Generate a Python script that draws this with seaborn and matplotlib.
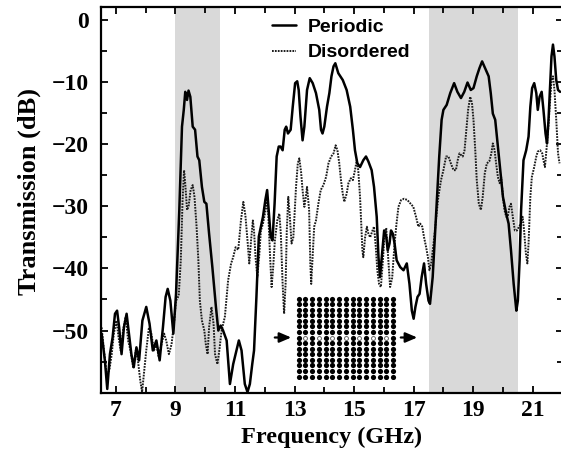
import numpy as np
import matplotlib
matplotlib.use("Agg")
import matplotlib.pyplot as plt
from matplotlib.ticker import FixedLocator
import seaborn as sns

# ---------------- data ----------------
freq_periodic = [6.52, 6.63, 6.71, 6.80, 6.89, 6.97, 7.04, 7.11, 7.19, 7.27, 7.36, 7.44, 7.52, 7.60, 7.69,
                 7.78, 7.89, 8.02, 8.13, 8.24, 8.36, 8.47, 8.58, 8.67, 8.74, 8.83, 8.93, 9.02, 9.13, 9.22,
                 9.28, 9.33, 9.39, 9.44, 9.50, 9.58, 9.66, 9.74, 9.80, 9.89, 9.97, 10.04, 10.13, 10.24,
                 10.36, 10.44, 10.52, 10.60, 10.72, 10.83, 10.94, 11.02, 11.13, 11.22, 11.33, 11.42,
                 11.50, 11.58, 11.64, 11.72, 11.80, 11.87, 11.94, 12.02, 12.08, 12.13, 12.20, 12.26,
                 12.33, 12.40, 12.47, 12.53, 12.60, 12.67, 12.72, 12.78, 12.87, 12.94, 13.02, 13.09,
                 13.14, 13.20, 13.27, 13.33, 13.42, 13.51, 13.61, 13.72, 13.83, 13.89, 13.94, 14.00,
                 14.09, 14.17, 14.24, 14.31, 14.37, 14.47, 14.62, 14.75, 14.87, 14.96, 15.03, 15.11,
                 15.20, 15.31, 15.40, 15.48, 15.59, 15.67, 15.76, 15.82, 15.87, 15.93, 16.01, 16.08,
                 16.13, 16.19, 16.24, 16.30, 16.36, 16.43, 16.55, 16.66, 16.77, 16.86, 16.94, 17.00,
                 17.06, 17.13, 17.20, 17.27, 17.35, 17.42, 17.50, 17.55, 17.64, 17.75, 17.86, 17.94,
                 18.00, 18.11, 18.23, 18.36, 18.47, 18.59, 18.70, 18.81, 18.92, 19.01, 19.12, 19.21,
                 19.30, 19.40, 19.52, 19.59, 19.66, 19.74, 19.82, 19.91, 20.00, 20.11, 20.19, 20.27,
                 20.36, 20.45, 20.50, 20.56, 20.61, 20.69, 20.78, 20.86, 20.92, 20.98, 21.05, 21.12,
                 21.17, 21.23, 21.30, 21.36, 21.43, 21.48, 21.53, 21.59, 21.63, 21.68, 21.73, 21.79,
                 21.85, 21.92]
trans_periodic = [-50.5, -54.8, -59.4, -53.8, -51.1, -47.3, -46.8, -49.5, -53.8, -49.5, -47.3, -50.5, -53.8,
                  -55.9, -52.7, -54.8, -48.4, -46.2, -48.9, -53.2, -51.6, -54.8, -49.5, -44.6, -43.3, -45.2,
                  -50.5, -44.1, -30.6, -17.2, -14.5, -11.6, -12.9, -11.4, -12.4, -17.2, -17.7, -22.0, -22.6,
                  -26.9, -29.3, -29.6, -34.4, -39.8, -46.2, -50.0, -49.2, -50.0, -51.6, -58.6, -55.4, -53.8,
                  -51.6, -53.2, -58.6, -59.9, -58.6, -55.4, -53.2, -44.6, -34.9, -33.3, -31.7, -29.0, -27.4,
                  -30.6, -34.9, -35.5, -29.6, -22.0, -20.4, -20.4, -21.0, -17.7, -17.2, -18.3, -17.7, -14.0,
                  -10.2, -9.9, -11.3, -15.6, -19.4, -17.2, -11.3, -9.4, -10.2, -11.8, -14.5, -17.7, -18.3,
                  -17.2, -14.0, -11.8, -9.1, -7.5, -7.0, -8.6, -9.7, -11.3, -14.0, -17.7, -21.0, -23.1,
                  -23.7, -22.6, -22.0, -22.8, -24.2, -26.9, -31.7, -38.2, -41.4, -38.2, -33.9, -34.9, -37.1,
                  -36.0, -33.9, -34.4, -36.0, -38.7, -39.8, -40.3, -39.2, -42.5, -46.8, -48.1, -46.2, -44.6,
                  -44.1, -41.4, -39.2, -42.5, -45.2, -45.7, -41.4, -31.7, -22.0, -16.1, -14.5, -13.7, -11.8,
                  -10.2, -11.6, -12.6, -11.6, -10.1, -11.3, -11.0, -9.1, -7.8, -6.7, -7.8, -9.1, -11.8,
                  -15.1, -16.1, -19.9, -24.2, -28.5, -31.2, -32.8, -37.1, -42.5, -46.8, -45.2, -38.7, -30.6,
                  -22.6, -21.0, -18.8, -14.0, -11.0, -10.2, -11.8, -14.5, -12.4, -11.6, -14.5, -18.3, -19.9,
                  -16.1, -10.2, -5.9, -4.0, -5.9, -9.7, -11.3, -11.6]

freq_disordered = [6.52, 6.60, 6.69, 6.78, 6.86, 6.93, 7.02, 7.09, 7.16, 7.24, 7.33, 7.41, 7.49, 7.58, 7.67,
                   7.74, 7.82, 7.88, 7.94, 8.02, 8.11, 8.19, 8.28, 8.36, 8.44, 8.53, 8.62, 8.69, 8.78, 8.87,
                   8.96, 9.02, 9.11, 9.18, 9.24, 9.29, 9.33, 9.39, 9.44, 9.51, 9.58, 9.64, 9.71, 9.77, 9.82,
                   9.89, 9.97, 10.02, 10.08, 10.13, 10.21, 10.28, 10.33, 10.41, 10.48, 10.55, 10.66, 10.77,
                   10.87, 10.94, 11.02, 11.11, 11.20, 11.28, 11.35, 11.42, 11.48, 11.54, 11.60, 11.64,
                   11.69, 11.75, 11.81, 11.87, 11.94, 12.03, 12.07, 12.12, 12.18, 12.23, 12.28, 12.34,
                   12.42, 12.49, 12.54, 12.60, 12.65, 12.70, 12.74, 12.79, 12.84, 12.90, 12.96, 13.05,
                   13.11, 13.16, 13.22, 13.27, 13.33, 13.38, 13.42, 13.49, 13.53, 13.56, 13.61, 13.66,
                   13.72, 13.80, 13.88, 13.97, 14.06, 14.14, 14.23, 14.31, 14.38, 14.44, 14.50, 14.56,
                   14.62, 14.67, 14.75, 14.81, 14.89, 14.96, 15.03, 15.09, 15.14, 15.20, 15.24, 15.28,
                   15.31, 15.37, 15.43, 15.48, 15.54, 15.62, 15.67, 15.73, 15.78, 15.84, 15.90, 15.96,
                   16.02, 16.08, 16.14, 16.21, 16.28, 16.36, 16.42, 16.49, 16.58, 16.68, 16.79, 16.90,
                   16.99, 17.08, 17.16, 17.22, 17.29, 17.35, 17.42, 17.48, 17.53, 17.59, 17.67, 17.76,
                   17.83, 17.92, 18.00, 18.09, 18.17, 18.25, 18.34, 18.42, 18.48, 18.54, 18.60, 18.65,
                   18.71, 18.76, 18.83, 18.90, 18.96, 19.01, 19.07, 19.12, 19.19, 19.26, 19.32, 19.39,
                   19.46, 19.54, 19.61, 19.66, 19.72, 19.77, 19.83, 19.89, 19.94, 20.00, 20.05, 20.11,
                   20.16, 20.22, 20.27, 20.33, 20.40, 20.47, 20.54, 20.60, 20.66, 20.71, 20.77, 20.82,
                   20.86, 20.92, 20.97, 21.05, 21.12, 21.17, 21.25, 21.32, 21.36, 21.41, 21.45, 21.50,
                   21.54, 21.59, 21.63, 21.68, 21.73, 21.79, 21.85, 21.90]
trans_disordered = [-49.5, -53.2, -57.0, -56.4, -53.8, -50.5, -48.4, -51.1, -53.2, -50.0, -47.8, -51.6, -53.2,
                    -55.9, -53.2, -54.8, -58.1, -59.9, -57.0, -53.2, -49.5, -50.5, -53.2, -52.2, -54.3, -52.2,
                    -50.5, -51.6, -53.8, -52.2, -48.4, -45.2, -44.4, -38.7, -29.0, -24.2, -26.4, -30.6, -30.1,
                    -27.4, -26.6, -28.5, -33.3, -38.7, -45.2, -48.4, -50.0, -52.2, -53.8, -49.5, -46.2, -48.9,
                    -53.8, -55.4, -53.0, -50.0, -47.8, -41.9, -39.2, -38.2, -36.6, -37.0, -32.3, -29.3, -31.5,
                    -35.5, -39.2, -35.5, -32.3, -34.0, -38.2, -41.4, -38.2, -33.9, -32.8, -30.6, -28.5, -31.5,
                    -38.2, -43.0, -40.0, -35.5, -32.3, -31.2, -34.5, -42.5, -47.3, -42.5, -33.9, -28.5, -31.5,
                    -36.0, -35.0, -26.9, -23.1, -22.3, -24.5, -27.4, -30.1, -28.5, -26.9, -30.6, -39.2, -42.5,
                    -38.0, -33.3, -32.3, -29.6, -27.4, -26.6, -25.3, -23.1, -22.0, -21.5, -20.2, -21.0, -23.0,
                    -25.8, -28.0, -29.3, -28.0, -26.3, -25.5, -25.8, -24.2, -22.6, -24.2, -28.5, -32.8, -37.1,
                    -38.2, -35.0, -33.3, -34.4, -35.0, -33.9, -33.3, -36.6, -40.3, -42.5, -43.0, -39.2, -35.0,
                    -33.5, -38.0, -43.0, -41.5, -36.0, -33.0, -30.1, -29.0, -28.8, -29.0, -29.6, -30.1, -31.7,
                    -33.3, -32.8, -33.3, -35.0, -36.6, -38.2, -40.3, -39.2, -36.0, -31.7, -28.5, -25.8, -24.2,
                    -22.0, -22.0, -23.1, -24.2, -24.2, -22.6, -21.5, -21.8, -22.0, -21.0, -18.3, -14.5, -12.4,
                    -13.4, -16.1, -21.0, -25.8, -29.6, -30.6, -28.5, -24.7, -23.1, -22.8, -21.5, -19.9, -21.0,
                    -23.1, -25.3, -26.3, -25.3, -28.5, -30.6, -31.7, -31.7, -30.1, -29.6, -31.7, -33.9, -33.9,
                    -33.3, -32.8, -31.7, -33.9, -37.6, -39.2, -36.0, -28.5, -25.3, -23.7, -22.0, -21.2, -21.0,
                    -21.5, -22.6, -23.7, -21.5, -18.8, -16.1, -12.4, -9.7, -9.1, -11.3, -16.1, -21.5, -23.1]

band_gaps = [(9.0, 10.5), (17.5, 20.5)]
x_ticks = [7, 9, 11, 13, 15, 17, 19, 21]
x_minor = [8, 10, 12, 14, 16, 18, 20]
y_ticks = [-50, -40, -30, -20, -10, 0]
y_minor = [-55, -45, -35, -25, -15, -5]
series_names = ["Periodic", "Disordered"]

# ---------------- style ----------------
sns.set_theme(style="ticks")
plt.rcParams["font.family"] = ["Liberation Serif", "DejaVu Serif"]
plt.rcParams["axes.unicode_minus"] = True
plt.rcParams["text.color"] = "black"

W, H = 561, 455
fig = plt.figure(figsize=(W / 100, H / 100), dpi=100)
ax_l, ax_r, ax_t, ax_b = 101, 562.5, 7.3, 392.7
ax = fig.add_axes([ax_l / W, 1 - ax_b / H, (ax_r - ax_l) / W, (ax_b - ax_t) / H])

for lo, hi in band_gaps:
    ax.axvspan(lo, hi, color="#d9d9d9", lw=0, zorder=0)

sns.lineplot(x=freq_periodic, y=trans_periodic, ax=ax, color="black", linewidth=1.8,
             sort=False, estimator=None, label=series_names[0], zorder=3)
sns.lineplot(x=freq_disordered, y=trans_disordered, ax=ax, color="#1a1a1a", linewidth=1.4,
             linestyle=(0, (0.9, 0.6)), sort=False, estimator=None, label=series_names[1], zorder=2)

ax.set_xlim(6.5, 22.0)
ax.set_ylim(-60, 2)
ax.xaxis.set_major_locator(FixedLocator(x_ticks))
ax.xaxis.set_minor_locator(FixedLocator(x_minor))
ax.yaxis.set_major_locator(FixedLocator(y_ticks))
ax.yaxis.set_minor_locator(FixedLocator(y_minor))
ax.tick_params(which="both", direction="in", top=True, right=True, color="black", width=1.3)
ax.tick_params(which="major", length=5)
ax.tick_params(which="minor", length=4.5)
ax.tick_params(axis="x", which="major", pad=5.5)
ax.tick_params(axis="y", which="major", pad=9)
for lab in ax.get_xticklabels() + ax.get_yticklabels():
    lab.set_fontsize(17)
    lab.set_fontweight("bold")
    lab.set_color("black")
for s in ax.spines.values():
    s.set_linewidth(1.6)
    s.set_color("black")

ax.set_xlabel("Frequency (GHz)", fontsize=17.5, fontweight="bold", color="black", labelpad=4)
ax.set_ylabel("Transmission (dB)", fontsize=19, fontweight="bold", color="black")
ax.yaxis.set_label_coords(-0.131, 0.523)

leg = ax.legend(loc="upper left", bbox_to_anchor=(272 / W, 1 - 18 / H), bbox_transform=fig.transFigure,
                frameon=False, borderpad=0, borderaxespad=0, handlelength=1.25, handletextpad=0.6,
                labelspacing=0.42, prop={"family": "Liberation Sans", "weight": "bold", "size": 14})
for t in leg.get_texts():
    t.set_color("black")

# ---------------- inset: photonic crystal lattice ----------------
n = 15
gx0, gx1, gy0, gy1 = 298.5, 393, 298.5, 376.5
dx = (gx1 - gx0) / (n - 1)
dy = (gy1 - gy0) / (n - 1)
iax = fig.add_axes([(gx0 - 0.5 * dx) / W, 1 - (gy1 + 0.5 * dy) / H, (gx1 - gx0 + dx) / W, (gy1 - gy0 + dy) / H])
iax.set_xlim(-0.5, n - 0.5)
iax.set_ylim(-0.5, n - 0.5)
iax.axis("off")
cols, rows = np.meshgrid(np.arange(n), np.arange(n))
cols, rows = cols.ravel(), rows.ravel()
mid = n // 2
open_mask = (rows == mid) & (cols % 2 == 1)
iax.scatter(cols[~open_mask], rows[~open_mask], s=14, color="black", linewidths=0)
iax.scatter(cols[open_mask], rows[open_mask], s=8, facecolors="white", edgecolors="#666666", linewidths=0.7)

arrow_y = H - (gy0 + mid * dy)
for x0, x1 in [(272, 294), (398, 420)]:
    fig.add_artist(matplotlib.patches.FancyArrowPatch((x0, arrow_y), (x1, arrow_y),
                   transform=None, arrowstyle="-|>,head_length=7,head_width=3",
                   color="black", lw=1.6, mutation_scale=1))

fig.savefig("out.png", dpi=100)
